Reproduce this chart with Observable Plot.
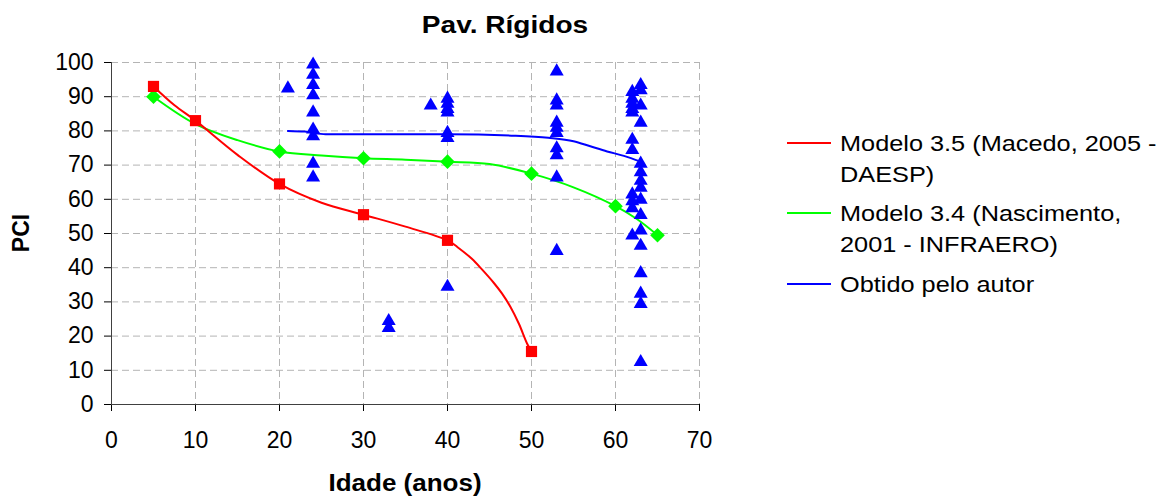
<!DOCTYPE html>
<html>
<head>
<meta charset="utf-8">
<script src="https://cdn.jsdelivr.net/npm/d3@7"></script>
<script src="https://cdn.jsdelivr.net/npm/@observablehq/plot@0.6"></script>
<style>
  html, body { margin: 0; padding: 0; background: #fff; }
  #wrap { position: relative; width: 1170px; height: 497px; font-family: "Liberation Sans", Arial, sans-serif; color: #000; }
  #chart { position: absolute; left: 0; top: 0; }
  .abs { position: absolute; white-space: nowrap; }
  #title { left: 505px; top: 12px; font-size: 23px; font-weight: bold; transform: translateX(-50%) scaleX(1.22); }
  #xlabel { left: 405px; top: 470px; font-size: 23px; font-weight: bold; transform: translateX(-50%) scaleX(1.13); }
  #ylabel { left: 21px; top: 233px; font-size: 23px; font-weight: bold; transform: translate(-50%, -50%) rotate(-90deg); }
  .leg { left: 787px; font-size: 22px; line-height: 31px; }
  .leg .sw { position: absolute; left: 0; width: 44px; height: 0; border-top: 2px solid; top: 14px; }
  .leg .tx { position: absolute; left: 53px; top: 0; transform: scaleX(1.15); transform-origin: left top; }
</style>
</head>
<body>
<div id="wrap">
  <div id="chart"></div>
  <div id="title" class="abs">Pav. Rígidos</div>
  <div id="xlabel" class="abs">Idade (anos)</div>
  <div id="ylabel" class="abs">PCI</div>
  <div id="legend"></div>
</div>
<script>
// ---- Data ----
const xTicks = [0, 10, 20, 30, 40, 50, 60, 70];
const yTicks = [0, 10, 20, 30, 40, 50, 60, 70, 80, 90, 100];

const seriesNames = ["Modelo 3.5 (Macedo, 2005 -\nDAESP)", "Modelo 3.4 (Nascimento,\n2001 - INFRAERO)", "Obtido pelo autor"];
const seriesColors = ["#ff0000", "#00ff00", "#0000ff"];

// Modelo 3.5 markers
const macedoAge = [5, 10, 20, 30, 40, 50];
const macedoPci = [93, 83, 64.5, 55.5, 48, 15.5];
// Modelo 3.5 curve
const macedoCurveAge = [5, 7.5, 10, 15, 20, 25, 30, 35, 40, 41.2, 42.9, 44.1, 45.5, 46.5, 47.5, 48.5, 49.5, 50];
const macedoCurvePci = [93, 87.5, 83, 73, 64.5, 59, 55.5, 52, 48, 46, 42.6, 39.5, 35.6, 32.4, 28.5, 23.6, 17.7, 15.5];

// Modelo 3.4 markers
const nascAge = [5, 20, 30, 40, 50, 60, 65];
const nascPci = [90, 74, 72, 71, 67.5, 58, 49.5];
// Modelo 3.4 curve
const nascCurveAge = [5, 10, 15, 20, 25, 30, 35, 40, 45, 50, 55, 60, 62.5, 65];
const nascCurvePci = [90, 82, 77.3, 74, 72.8, 72, 71.6, 71, 70.3, 67.5, 63.5, 58, 54.3, 49.5];

// Obtido pelo autor - curve
const autorCurveAge = [21, 23, 25.5, 30, 40, 48, 52, 55, 57, 59, 61, 63];
const autorCurvePci = [80, 79.8, 79, 79, 79, 78.6, 78, 77, 75.5, 74, 72.7, 71];

// Obtido pelo autor - observations (triangles)
const obsAge = [
  21,
  24, 24, 24, 24, 24, 24, 24, 24, 24,
  33, 33,
  38,
  40, 40, 40, 40, 40, 40, 40,
  53, 53, 53, 53, 53, 53, 53, 53, 53, 53,
  62, 62, 62, 62, 62, 62, 62, 62, 62, 62, 62,
  63, 63, 63, 63, 63, 63, 63, 63, 63, 63, 63, 63, 63, 63, 63, 63
];
const obsPci = [
  93,
  100, 97, 94, 91, 86, 81, 79, 71, 67,
  25, 23,
  88,
  90, 88.5, 87, 86, 80, 78.5, 35,
  98, 89.5, 88, 83, 81.5, 80, 75.5, 73.5, 67, 45.5,
  92, 90, 88.5, 87, 86, 78, 75, 62, 60, 58, 50,
  94, 92.5, 88, 83, 71, 68.5, 66, 64, 60.5, 56, 51.5, 47, 39, 33, 30, 13
];

// ---- Build tables ----
const zip = (xs, ys) => xs.map((x, i) => ({x, y: ys[i]}));
const macedoPts = zip(macedoAge, macedoPci);
const macedoCurve = zip(macedoCurveAge, macedoCurvePci);
const nascPts = zip(nascAge, nascPci);
const nascCurve = zip(nascCurveAge, nascCurvePci);
const autorCurve = zip(autorCurveAge, autorCurvePci);
const obsPts = zip(obsAge, obsPci);

const chart = Plot.plot({
  width: 1170,
  height: 497,
  marginLeft: 111,
  marginRight: 471,
  marginTop: 62,
  marginBottom: 93,
  style: {fontFamily: '"Liberation Sans", Arial, sans-serif', fontSize: "23px", color: "#000", background: "transparent", overflow: "visible"},
  x: {domain: [0, 70], ticks: xTicks, tickSize: 7, tickPadding: 20, label: null},
  y: {domain: [0, 100], ticks: yTicks, tickSize: 7, tickPadding: 11, label: null},
  marks: [
    Plot.ruleX(xTicks.slice(1), {stroke: "#b4b4b4", strokeWidth: 1, strokeDasharray: "7,4"}),
    Plot.ruleY(yTicks.slice(1), {stroke: "#b4b4b4", strokeWidth: 1, strokeDasharray: "7,4"}),
    Plot.ruleX([0], {stroke: "#404040", strokeWidth: 1}),
    Plot.ruleY([0], {stroke: "#404040", strokeWidth: 1}),
    Plot.line(autorCurve, {x: "x", y: "y", stroke: seriesColors[2], strokeWidth: 2, curve: "monotone-x"}),
    Plot.line(nascCurve, {x: "x", y: "y", stroke: seriesColors[1], strokeWidth: 2, curve: "catmull-rom"}),
    Plot.line(macedoCurve, {x: "x", y: "y", stroke: seriesColors[0], strokeWidth: 2, curve: "catmull-rom"}),
    Plot.dot(nascPts, {x: "x", y: "y", symbol: "diamond2", r: 6.6, fill: seriesColors[1], stroke: "none"}),
    Plot.dot(macedoPts, {x: "x", y: "y", symbol: "square", r: 6.3, fill: seriesColors[0], stroke: "none"}),
    Plot.dot(obsPts, {x: "x", y: "y", symbol: "triangle", r: 5.2, dy: 2, fill: seriesColors[2], stroke: "none"})
  ]
});
document.getElementById("chart").appendChild(chart);

// ---- Legend ----
const legendTops = [128, 198, 269];
const legend = document.getElementById("legend");
seriesNames.forEach((name, i) => {
  const item = document.createElement("div");
  item.className = "abs leg";
  item.style.top = legendTops[i] + "px";
  const sw = document.createElement("div");
  sw.className = "sw";
  sw.style.borderColor = seriesColors[i];
  const tx = document.createElement("div");
  tx.className = "tx";
  tx.innerHTML = name.split("\n").join("<br>");
  item.appendChild(sw);
  item.appendChild(tx);
  legend.appendChild(item);
});
</script>
</body>
</html>
